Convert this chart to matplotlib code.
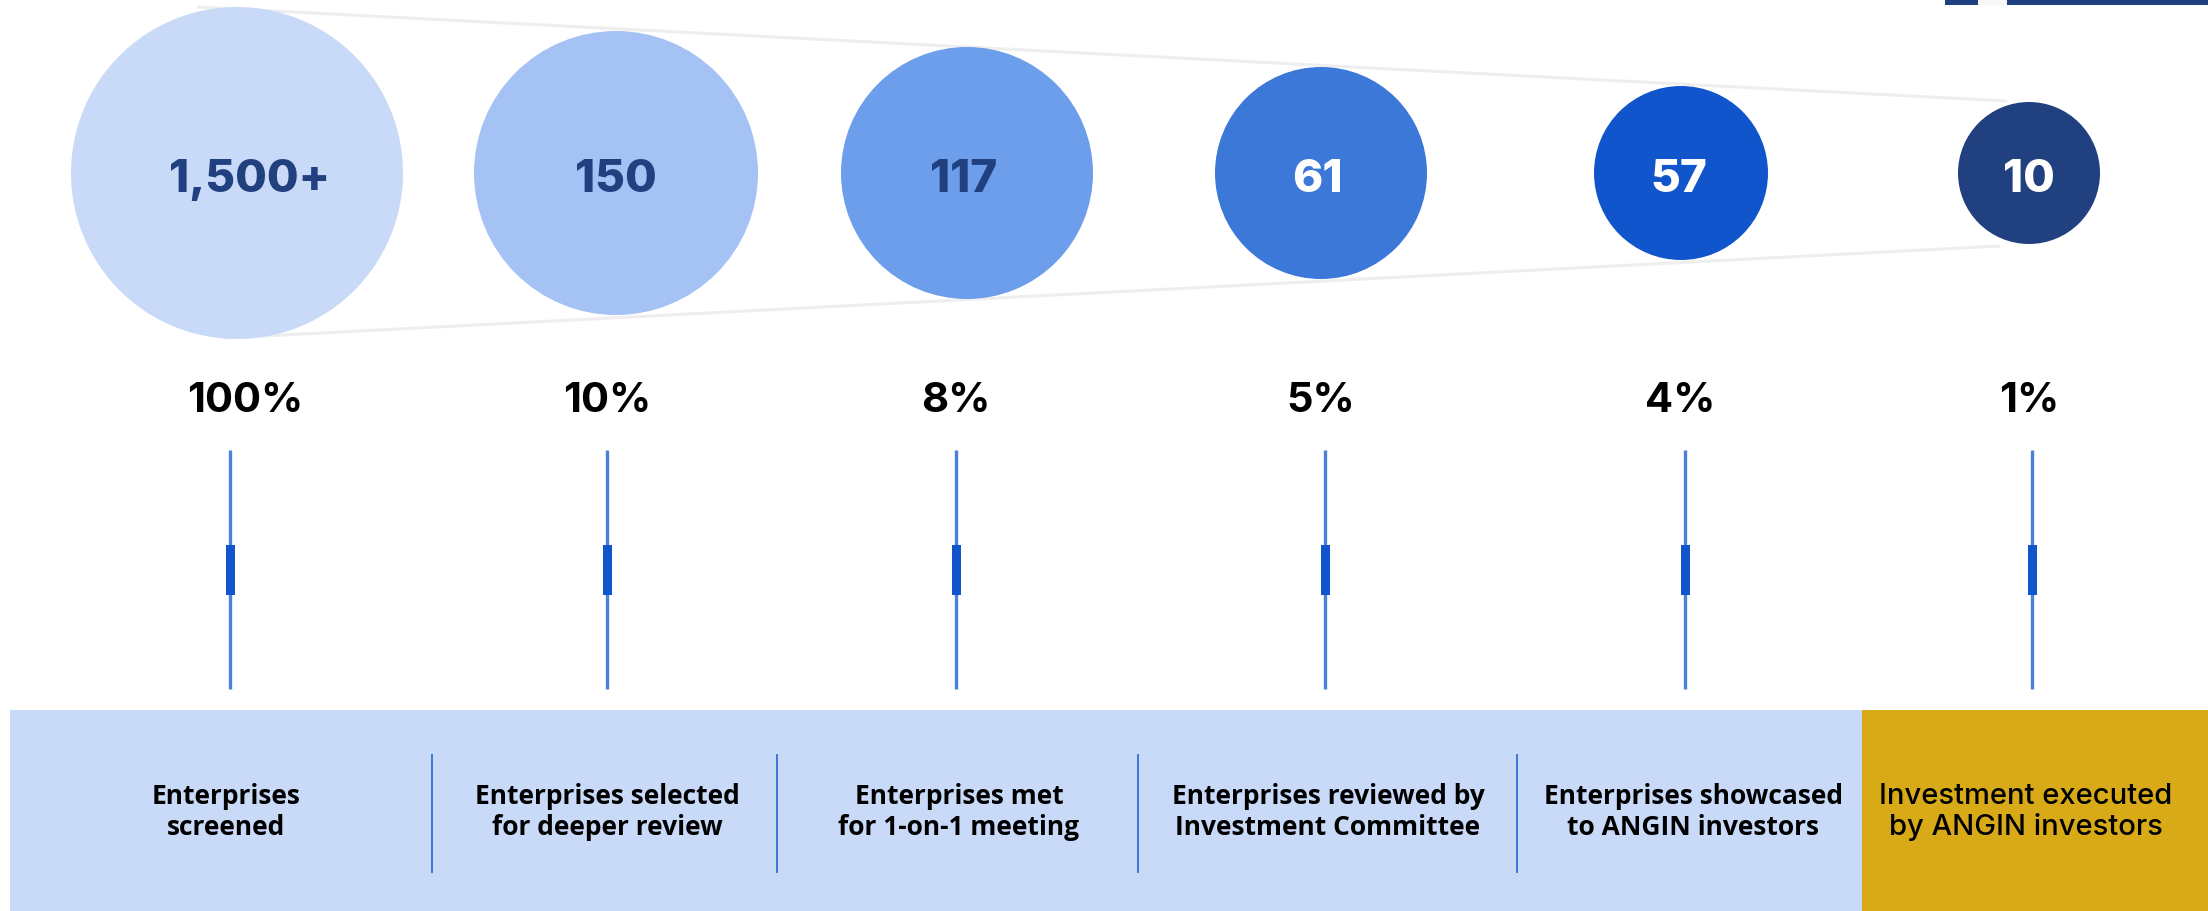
import matplotlib.pyplot as plt
from matplotlib.patches import Circle, Rectangle

# funnel stages
counts = ['1,500+', '150', '117', '61', '57', '10']
shares = ['100%', '10%', '8%', '5%', '4%', '1%']
stages = ['Enterprises\nscreened',
          'Enterprises selected\nfor deeper review',
          'Enterprises met\nfor 1-on-1 meeting',
          'Enterprises reviewed by\nInvestment Committee',
          'Enterprises showcased\nto ANGIN investors',
          'Investment executed\nby ANGIN investors']

navy = '#21407f'
circle_colors = ['#c9daf8', '#a4c2f4', '#6d9eeb', '#3c78d8', '#1155cc', navy]
count_colors = [navy, navy, navy, 'white', 'white', 'white']

# layout, in pixels of the 2208x911 picture
W, H = 2208, 911
circle_x = [237, 616, 967, 1321, 1681, 2029]
radius = [166, 142, 126, 106, 87, 71]
circle_y = 173
count_dx = [13, 0, -3, -4, -2, 0]
share_x = [245, 607, 956, 1321, 1680, 2029]
stem_x = [230, 607, 956, 1325, 1685, 2032]
label_x = [226, 607, 959, 1328, 1693, 2026]
sep_x = [432, 777, 1138, 1517]
box_top = 710
gold_x = 1862

fig = plt.figure(figsize=(W / 100, H / 100), dpi=100)
ax = fig.add_axes([0, 0, 1, 1])
ax.set_xlim(0, W)
ax.set_ylim(H, 0)
ax.axis('off')

# funnel outline
ax.plot([197, 2007], [7, 101], color='#eeeeee', lw=2.2, zorder=1, solid_capstyle='butt')
ax.plot([225, 2000], [338, 246], color='#eeeeee', lw=2.2, zorder=1, solid_capstyle='butt')

# little bar in the top right corner
ax.add_patch(Rectangle((1945, 0), 33, 5, color=navy, lw=0))
ax.add_patch(Rectangle((1978, 0), 29, 5, color='#f7f7f7', lw=0))
ax.add_patch(Rectangle((2007, 0), W - 2007, 5, color=navy, lw=0))

for i in range(len(counts)):
    ax.add_patch(Circle((circle_x[i], circle_y), radius[i], color=circle_colors[i], lw=0, zorder=2))
    ax.text(circle_x[i] + count_dx[i], 192, counts[i], ha='center', va='baseline',
            fontsize=33, fontweight='heavy', family='Inter', color=count_colors[i], zorder=3)
    ax.text(share_x[i], 412, shares[i], ha='center', va='baseline',
            fontsize=30, fontweight='bold', family='Inter', color='black')
    # stem with a small block in the middle
    ax.plot([stem_x[i], stem_x[i]], [450, 689], color='#4a82d9', lw=2.4, solid_capstyle='butt')
    ax.add_patch(Rectangle((stem_x[i] - 4.5, 545), 9, 50, color='#1155cc', lw=0, zorder=3))

# bottom band
ax.add_patch(Rectangle((10, box_top), gold_x - 10, H - box_top, color='#c9daf8', lw=0))
ax.add_patch(Rectangle((gold_x, box_top), W - gold_x, H - box_top, color='#d8aa17', lw=0))
for x in sep_x:
    ax.plot([x, x], [755, 872], color='#3c78d8', lw=1.4)

for i in range(len(stages)):
    if i < len(stages) - 1:
        ax.text(label_x[i], 812, stages[i], ha='center', va='center', fontsize=19,
                fontweight='bold', family='Open Sans', linespacing=1.15, color='black')
    else:
        ax.text(label_x[i], 812, stages[i], ha='center', va='center', fontsize=21,
                fontweight='medium', family='Inter', linespacing=1.15, color='black')

fig.savefig('out.png', dpi=100)
